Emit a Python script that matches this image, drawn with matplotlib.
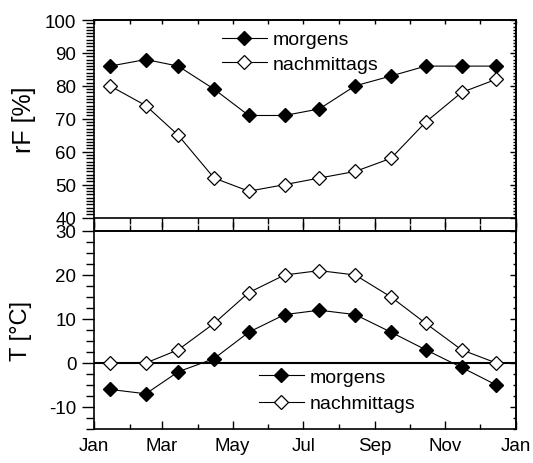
import matplotlib
matplotlib.use("Agg")
import matplotlib.pyplot as plt
import matplotlib.dates as mdates
from matplotlib.lines import Line2D
from matplotlib.ticker import MultipleLocator
import pandas as pd

plt.rcParams['font.family'] = ['Liberation Sans', 'DejaVu Sans']
plt.rcParams['axes.unicode_minus'] = False

# Monatsmittel, jeweils zur Monatsmitte
monate = pd.date_range('2001-01-01', periods=12, freq='MS') + pd.Timedelta(days=14)
rf_morgens = [86, 88, 86, 79, 71, 71, 73, 80, 83, 86, 86, 86]
rf_nachmittags = [80, 74, 65, 52, 48, 50, 52, 54, 58, 69, 78, 82]
t_morgens = [-6, -7, -2, 1, 7, 11, 12, 11, 7, 3, -1, -5]
t_nachmittags = [0, 0, 3, 9, 16, 20, 21, 20, 15, 9, 3, 0]

fig = plt.figure(figsize=(5.33, 4.64), dpi=100)
left, right = 0.176, 0.968
ax1 = fig.add_axes([left, 0.529, right - left, 0.9547 - 0.529])
ax2 = fig.add_axes([left, 0.0733, right - left, 0.5 - 0.0733])

stil_voll = dict(color='black', lw=0.8, marker='D', markersize=7.5,
                 markerfacecolor='black', markeredgecolor='black')
stil_leer = dict(color='black', lw=0.8, marker='D', markersize=7.5,
                 markerfacecolor='white', markeredgecolor='black', markeredgewidth=0.9)

ax1.plot(monate, rf_morgens, label='morgens', **stil_voll)
ax1.plot(monate, rf_nachmittags, label='nachmittags', **stil_leer)
ax2.axhline(0, color='black', lw=1.5, zorder=1)
ax2.plot(monate, t_morgens, label='morgens', **stil_voll)
ax2.plot(monate, t_nachmittags, label='nachmittags', **stil_leer)

start, ende = pd.Timestamp('2001-01-01'), pd.Timestamp('2002-01-01')
for ax, (haupt, neben) in ((ax1, (10, 1)), (ax2, (10, 2.5))):
    ax.set_xlim(start, ende)
    ax.xaxis.set_major_locator(mdates.MonthLocator(bymonth=[1, 3, 5, 7, 9, 11]))
    ax.xaxis.set_minor_locator(mdates.MonthLocator(bymonth=[2, 4, 6, 8, 10, 12]))
    ax.xaxis.set_major_formatter(mdates.DateFormatter('%b'))
    ax.yaxis.set_major_locator(MultipleLocator(haupt))
    ax.yaxis.set_minor_locator(MultipleLocator(neben))
    for s in ax.spines.values():
        s.set_linewidth(1.2)
    ax.tick_params(axis='both', which='both', width=1.0, labelsize=13.5)
    ax.tick_params(axis='y', which='both', direction='out', left=True, right=False)
    ax.tick_params(axis='y', which='major', length=9)
    ax.tick_params(axis='y', which='minor', length=6)
    # rechte Achse mit kurzen Innenstrichen
    rechts = ax.secondary_yaxis('right')
    rechts.yaxis.set_major_locator(MultipleLocator(haupt))
    rechts.yaxis.set_minor_locator(MultipleLocator(neben))
    rechts.tick_params(axis='y', which='both', direction='in', labelright=False, width=1.0)
    rechts.tick_params(axis='y', which='major', length=4)
    rechts.tick_params(axis='y', which='minor', length=2.5)
    rechts.spines['right'].set_linewidth(1.2)

# oberes Diagramm: relative Feuchte
ax1.set_ylim(40, 100)
ax1.set_ylabel('rF [%]', fontsize=18)
ax1.tick_params(axis='x', which='both', direction='out', labelbottom=False)
ax1.tick_params(axis='x', which='major', length=6.5)
ax1.tick_params(axis='x', which='minor', length=4)
oben = ax1.secondary_xaxis('top')
oben.xaxis.set_major_locator(mdates.MonthLocator(bymonth=[1, 3, 5, 7, 9, 11]))
oben.xaxis.set_minor_locator(mdates.MonthLocator(bymonth=[2, 4, 6, 8, 10, 12]))
oben.tick_params(axis='x', which='both', direction='in', labeltop=False, length=3, width=1.0)
oben.spines['top'].set_linewidth(1.2)

# unteres Diagramm: Temperatur
ax2.set_ylim(-15, 30)
ax2.set_ylabel('T [°C]', fontsize=17)
ax2.tick_params(axis='x', which='both', direction='in')
ax2.tick_params(axis='x', which='major', length=6, pad=6)
ax2.tick_params(axis='x', which='minor', length=3.5)
zwischen = ax2.secondary_xaxis('top')
zwischen.xaxis.set_major_locator(mdates.MonthLocator(bymonth=[1, 3, 5, 7, 9, 11]))
zwischen.xaxis.set_minor_locator(mdates.MonthLocator(bymonth=[2, 4, 6, 8, 10, 12]))
zwischen.tick_params(axis='x', which='both', direction='out', labeltop=False, width=1.0)
zwischen.tick_params(axis='x', which='major', length=6.5)
zwischen.tick_params(axis='x', which='minor', length=4)
zwischen.spines['top'].set_linewidth(1.2)

ax1.yaxis.set_label_coords(-0.137, 0.5)
ax2.yaxis.set_label_coords(-0.147, 0.5)

# Seitenlinien durch die Lücke zwischen beiden Diagrammen
for x in (left, right):
    fig.add_artist(Line2D([x, x], [0.5, 0.529], transform=fig.transFigure,
                          color='black', lw=1.2))

ax1.legend(loc='upper left', bbox_to_anchor=(0.285, 0.985), frameon=False,
           fontsize=14, handlelength=2.3, handletextpad=0.3, labelspacing=0.35,
           borderaxespad=0)
ax2.legend(loc='upper left', bbox_to_anchor=(0.373, 0.345), frameon=False,
           fontsize=14, handlelength=2.3, handletextpad=0.3, labelspacing=0.45,
           borderaxespad=0)

fig.savefig('out.png', dpi=100)
